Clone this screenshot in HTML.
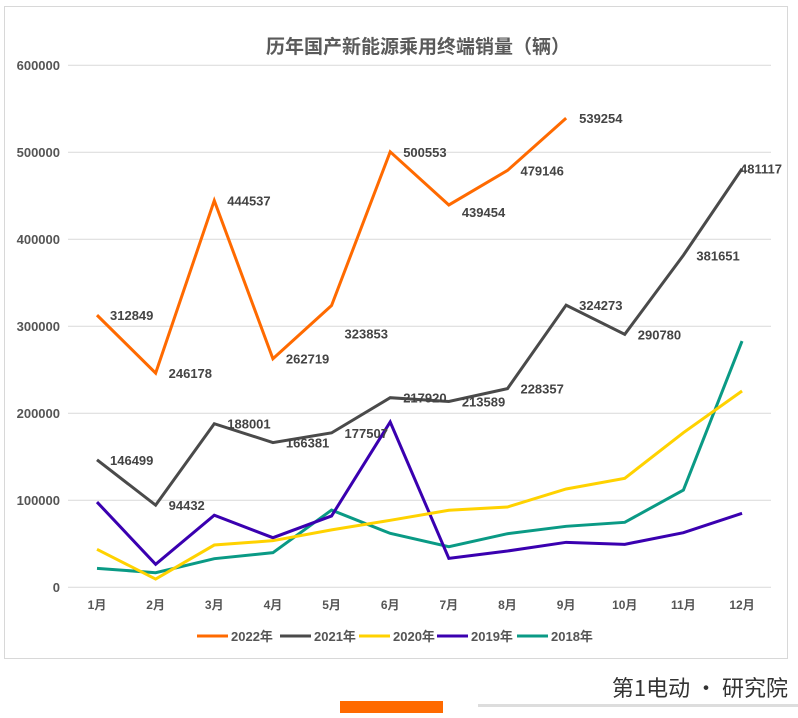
<!DOCTYPE html>
<html><head><meta charset="utf-8"><style>
body{margin:0;background:#fff;width:798px;height:718px;overflow:hidden;font-family:"Liberation Sans","Noto Sans CJK SC",sans-serif}
svg{display:block}
</style></head><body>
<svg id="c" width="798" height="718" xmlns="http://www.w3.org/2000/svg">
<rect x="4.5" y="6.5" width="783" height="652" fill="#fff" stroke="#d8d8d8"/>
<text x="418" y="53" text-anchor="middle" font-size="19" font-weight="bold" fill="#5a5a5a" font-family="Liberation Sans,Noto Sans CJK SC,sans-serif">历年国产新能源乘用终端销量（辆）</text>
<g id="grid"></g><g id="series"></g><g id="labels"></g><g id="legend"></g>
<rect x="340" y="701" width="103" height="12" fill="#ff6a00"/>
<rect x="478" y="704" width="320" height="3" fill="#ddd"/>
<text x="788" y="696" text-anchor="end" font-size="22" fill="#333" font-family="Noto Sans CJK SC,sans-serif">第1电动 · 研究院</text>
</svg>
<script>
const months=["1月","2月","3月","4月","5月","6月","7月","8月","9月","10月","11月","12月"];
const yTicks=[0,100000,200000,300000,400000,500000,600000];
const seriesNames=["2022年","2021年","2020年","2019年","2018年"];
const seriesColors=["#ff6a00","#4a4a4a","#ffd200","#3a00b0","#0a9a85"];
const v2022=[312849,246178,444537,262719,323853,500553,439454,479146,539254];
const v2021=[146499,94432,188001,166381,177507,217920,213589,228357,324273,290780,381651,481117];
const v2020=[43700,9500,48600,53600,66000,77000,88500,92300,113000,125300,177700,225600];
const v2019=[98000,26400,82800,57000,82000,190000,33300,41700,51700,49400,62800,85000];
const v2018=[21800,16800,32900,39800,88800,62000,46700,61600,70100,74700,111800,283000];
const allSeries=[v2022,v2021,v2020,v2019,v2018];
const labelDy2022=[0,0,0,0,28,0,7,0,0];
const NS="http://www.w3.org/2000/svg";
const xS=i=>97+i*58.64;
const yS=v=>587.3-v*0.00087;
function mk(tag,attrs,parent){const e=document.createElementNS(NS,tag);for(const k in attrs)e.setAttribute(k,attrs[k]);parent.appendChild(e);return e;}
const grid=document.getElementById('grid');
yTicks.forEach(t=>{
  const l=mk('line',{x1:68,x2:771,y1:yS(t),y2:yS(t),stroke:'#d9d9d9','stroke-width':1},grid);
  
  
  const tx=mk('text',{x:60,y:yS(t)+4.5,'text-anchor':'end','font-size':13,'font-weight':'bold',fill:'#555'},grid);
  tx.textContent=t;
  
  
});
months.forEach((m,i)=>{
  const tx=mk('text',{x:xS(i),y:609,'text-anchor':'middle','font-size':12,'font-weight':'bold',fill:'#555','font-family':'Liberation Sans,Noto Sans CJK SC,sans-serif'},grid);
  tx.textContent=m;
  
  
});
const sg=document.getElementById('series');
for(let s=allSeries.length-1;s>=0;s--){
  const pts=allSeries[s].map((v,i)=>xS(i)+','+yS(v)).join(' ');
  const p=mk('polyline',{points:pts,fill:'none',stroke:seriesColors[s],'stroke-width':3,'stroke-linejoin':'miter'},sg);
  
  
}
const lg=document.getElementById('labels');
[v2022,v2021].forEach((arr,s)=>{
  arr.forEach((v,i)=>{
    const dy=s===0?labelDy2022[i]:0;
    const x=s===1&&i===11?xS(i)-2:xS(i)+13;
    const tx=mk('text',{x:x,y:yS(v)+5+dy,'font-size':13,'font-weight':'bold',fill:'#444'},lg);
    tx.textContent=v;
    
    
  });
});
const leg=document.getElementById('legend');
const legX=[197,280,359,437,517];
seriesNames.forEach((n,i)=>{
  const l=mk('line',{x1:legX[i],x2:legX[i]+31,y1:636,y2:636,stroke:seriesColors[i],'stroke-width':3},leg);
  
  
  const tx=mk('text',{x:legX[i]+34,y:641,'font-size':13,'font-weight':'bold',fill:'#555','font-family':'Liberation Sans,Noto Sans CJK SC,sans-serif'},leg);
  tx.textContent=n;
  
  
});
</script>
</body></html>
